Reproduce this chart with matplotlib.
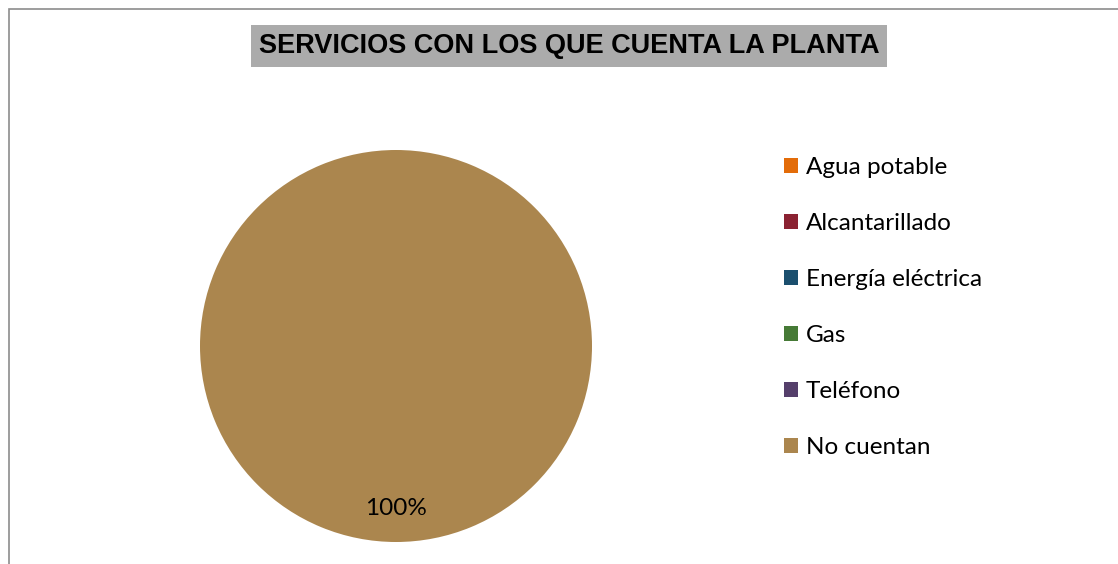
import matplotlib.pyplot as plt
from matplotlib.patches import Patch, Rectangle

# datos del grafico
servicios = ['Agua potable', 'Alcantarillado', 'Energía eléctrica', 'Gas', 'Teléfono', 'No cuentan']
porcentajes = [0, 0, 0, 0, 0, 100]
colores = ['#E36C09', '#8B2232', '#1B4F6E', '#467A36', '#553F6B', '#AB864E']
titulo = 'SERVICIOS CON LOS QUE CUENTA LA PLANTA'

W, H = 1118, 564
fig = plt.figure(figsize=(W / 100, H / 100), dpi=100)

# marco gris del grafico (izquierda y arriba)
fig.patches.append(Rectangle((9 / W, -0.1), 1.2, (H - 9) / H + 0.1, transform=fig.transFigure,
                             fill=False, edgecolor='#8C8C8C', linewidth=1.2))

# pie: centro (396, 346), radio 196 px
r = 196
ax = fig.add_axes([(396 - r) / W, (H - 346 - r) / H, 2 * r / W, 2 * r / H])


def etiqueta(p):
    return '%d%%' % round(p) if p > 0 else ''


ax.pie(porcentajes, colors=colores, startangle=90, counterclock=False,
       autopct=etiqueta, pctdistance=0.83,
       textprops={'fontsize': 17.5, 'family': 'Lato', 'color': 'black'})
ax.set_xlim(-1, 1)
ax.set_ylim(-1, 1)
ax.set_aspect('equal')

# titulo con fondo gris
fig.text(569 / W, 1 - 46 / H, titulo, ha='center', va='center',
         fontsize=19.5, fontweight='bold', family='Liberation Sans',
         bbox=dict(facecolor='#ABABAB', edgecolor='none', pad=5.6))

# leyenda
handles = [Patch(facecolor=c, edgecolor='none') for c in colores]
fig.legend(handles, servicios, loc='upper left', bbox_to_anchor=(784 / W, 1 - 157 / H),
           frameon=False, prop={'family': 'Lato', 'size': 17.5},
           borderpad=0, borderaxespad=0,
           handlelength=0.58, handleheight=0.58, handletextpad=0.33, labelspacing=1.44)

plt.savefig('out.png', dpi=100)
